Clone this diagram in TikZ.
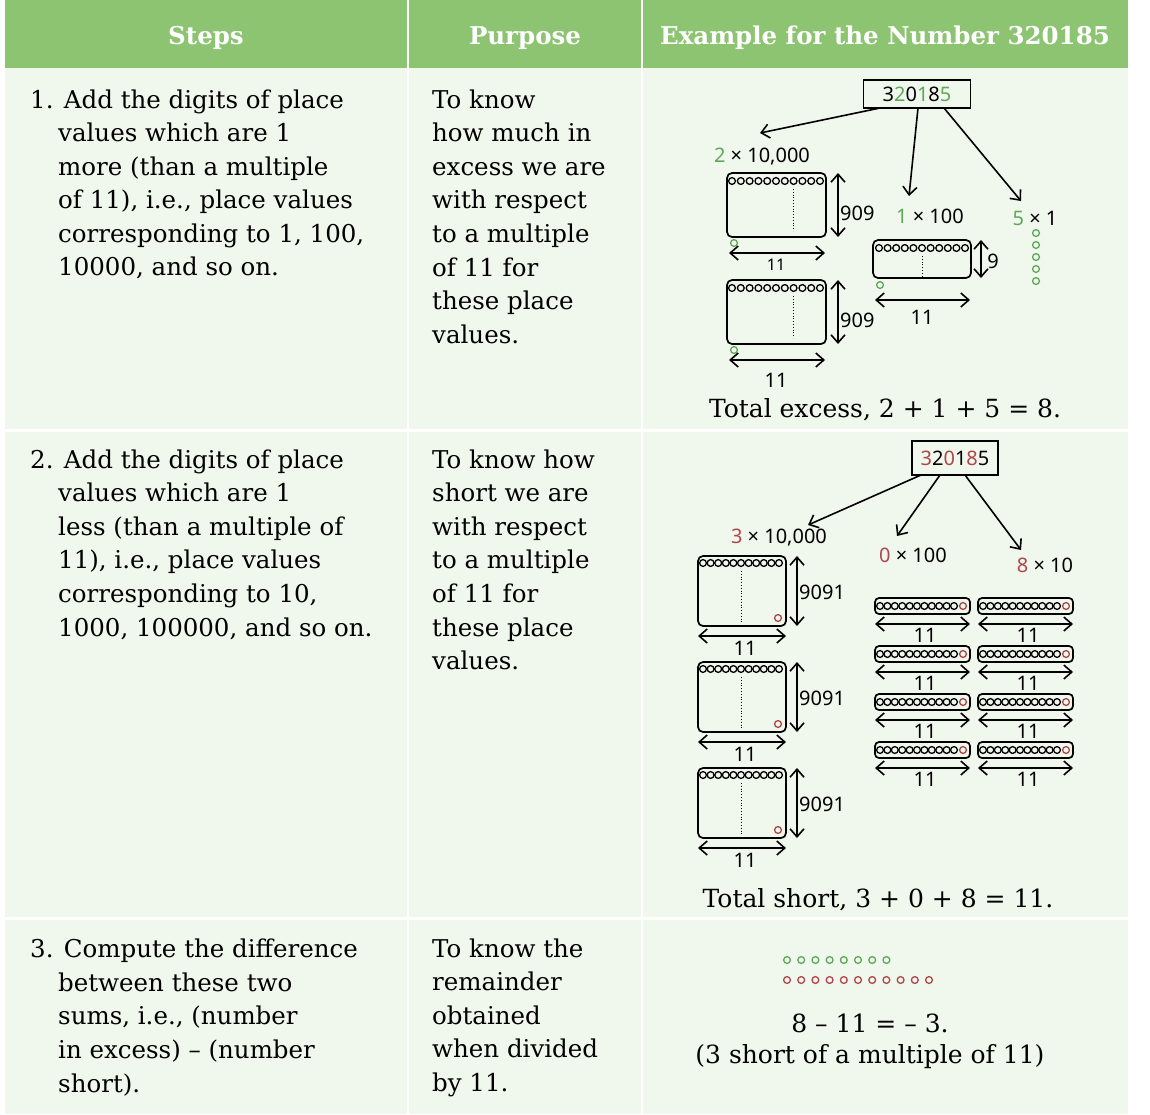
\documentclass[tikz,border=0pt]{standalone}
\usepackage{fontspec}
\setmainfont{DejaVu Serif}
\newfontfamily\lab{Noto Sans}
\usetikzlibrary{arrows.meta}
\definecolor{hdr}{HTML}{8CC472}
\definecolor{bodybg}{HTML}{F0F7EC}
\definecolor{gr}{HTML}{5FA85A}
\definecolor{rd}{HTML}{B0464C}
\tikzset{
 txt/.style={anchor=base west,inner sep=0,font=\fontsize{24.5}{30}\selectfont},
 hd/.style={anchor=center,inner sep=0,text=white,font=\bfseries\fontsize{24.5}{28}\selectfont},
 lb/.style={inner sep=0,font=\lab\fontsize{20}{22}\selectfont},
 lbs/.style={inner sep=0,font=\lab\fontsize{16}{18}\selectfont},
 big/.style={inner sep=0,font=\fontsize{25}{30}\selectfont},
 arr/.style={line width=1.6pt,-{Straight Barb[length=8pt,width=14pt]}},
 darr/.style={line width=1.6pt,{Straight Barb[length=8pt,width=14pt]}-{Straight Barb[length=8pt,width=14pt]}},
 frm/.style={draw,line width=1.7pt,rounded corners=5pt},
}
\newcommand\crow[5]{\foreach \i in {1,...,#3}{\draw[#5,line width=1.3pt] ({#1+(\i-1)*#4},#2) circle (3.4);}}
\begin{document}
\begin{tikzpicture}[x=1pt,y=-1pt]
\useasboundingbox (0,0) rectangle (1150,1114);
\fill[white] (0,0) rectangle (1150,1114);
\fill[bodybg] (5,68) rectangle (1128,1114);
\fill[hdr] (5,0) rectangle (1128,68);
\draw[white,line width=2pt] (408,0) -- (408,1114) (642,0) -- (642,1114);
\draw[white,line width=3pt] (5,430) -- (1128,430) (5,918) -- (1128,918);
\node[hd] (h1) at (206,38) {Steps};
\node[hd] (h2) at (525,38) {Purpose};
\node[hd] (h3) at (885,38) {Example for the Number 320185};
% column 1
\node[txt] at (30,108) {1. Add the digits of place};
\node[txt] at (58,141) {values which are 1};
\node[txt] at (58,175) {more (than a multiple};
\node[txt] at (58,208) {of 11), i.e., place values};
\node[txt] at (58,242) {corresponding to 1, 100,};
\node[txt] at (58,275) {10000, and so on.};
\node[txt] at (30,468) {2. Add the digits of place};
\node[txt] at (58,501) {values which are 1};
\node[txt] at (58,535) {less (than a multiple of};
\node[txt] at (58,568) {11), i.e., place values};
\node[txt] at (58,602) {corresponding to 10,};
\node[txt] at (58,636) {1000, 100000, and so on.};
\node[txt] at (30,957) {3. Compute the difference};
\node[txt] at (58,991) {between these two};
\node[txt] at (58,1024) {sums, i.e., (number};
\node[txt] at (58,1058) {in excess) – (number};
\node[txt] at (58,1092) {short).};
% column 2
\foreach \t [count=\k] in {To know,how much in,excess we are,with respect,to a multiple,of 11 for,these place,values.}
  \node[txt] at (432,{108+(\k-1)*33.6}) {\t};
\foreach \t [count=\k] in {To know how,short we are,with respect,to a multiple,of 11 for,these place,values.}
  \node[txt] at (432,{468+(\k-1)*33.6}) {\t};
\foreach \t [count=\k] in {To know the,remainder,obtained,when divided,by 11.}
  \node[txt] at (432,{957+(\k-1)*33.6}) {\t};
% ===== example 1
\node[draw,line width=1.5pt,minimum width=107pt,minimum height=28pt,inner sep=0,lb] (n1) at (917,94) {3\textcolor{gr}{2}0\textcolor{gr}{1}8\textcolor{gr}{5}};
\coordinate (t1) at (760,133);\coordinate (t2) at (909,196);\coordinate (t3) at (1021,201);
\draw[arr] (880,108) -- (t1);
\draw[arr] (918,108) -- (t2);
\draw[arr] (944,108) -- (t3);
\node[lb] at (762,157) {\textcolor{gr}{2} × 10,000};
\foreach \yy/\lbl in {173/909,280/909}{
 \draw[frm] (727,\yy) rectangle (826,\yy+64);
 \crow{732}{\yy+8}{11}{8.8}{black}
 \draw[dotted,line width=0.8pt] (793,\yy+16) -- (793,\yy+58);
 \draw[darr] (838,\yy) -- (838,\yy+64);
 \node[lb,anchor=west] at (840,\yy+40) {\lbl};
 \crow{734}{\yy+70}{1}{0}{gr}
 \draw[darr] (729,\yy+80) -- (825,\yy+80);
}
\node[lbs] at (776,265) {11};
\node[lb] at (776,380) {11};
\node[lb] at (930,216) {\textcolor{gr}{1} × 100};
\draw[frm] (873,240) rectangle (971,278);
\crow{879}{248}{11}{8.6}{black}
\draw[dotted,line width=0.8pt] (922,256) -- (922,276);
\draw[darr] (981,240) -- (981,278);
\node[lb] at (993,261) {9};
\crow{880}{285}{1}{0}{gr}
\draw[darr] (875,300) -- (970,300);
\node[lb] at (922,317) {11};
\node[lb] at (1035,218) {\textcolor{gr}{5} × 1};
\foreach \k in {0,...,4}{\draw[gr,line width=1.3pt] (1036,{233+\k*12}) circle (3.4);}
\node[big] at (885,410) {Total excess, 2 + 1 + 5 = 8.};
% ===== example 2
\node[draw,line width=1.5pt,minimum width=86pt,minimum height=34pt,inner sep=0,lb] (n2) at (955,458) {\textcolor{rd}{3}2\textcolor{rd}{0}1\textcolor{rd}{8}5};
\coordinate (u1) at (808,525);\coordinate (u2) at (897,536);\coordinate (u3) at (1021,550);
\draw[arr] (921,475) -- (u1);
\draw[arr] (940,475) -- (u2);
\draw[arr] (965,475) -- (u3);
\node[lb] at (779,538) {\textcolor{rd}{3} × 10,000};
\node[lb] at (913,555) {\textcolor{rd}{0} × 100};
\node[lb] at (1045,565) {\textcolor{rd}{8} × 10};
\foreach \yy in {556,662,768}{
 \draw[frm] (698,\yy) rectangle (786,\yy+70);
 \crow{703}{\yy+7}{10}{7.6}{black}
 \crow{779}{\yy+7}{1}{0}{black}
 \crow{778}{\yy+62}{1}{0}{rd}
 \draw[dotted,line width=0.8pt] (741,\yy+15) -- (741,\yy+66);
 \draw[darr] (797,\yy) -- (797,\yy+70);
 \node[lb,anchor=west] at (799,\yy+36) {9091};
 \draw[darr] (698,\yy+80) -- (786,\yy+80);
 \node[lb] at (745,\yy+92) {11};
}
\foreach \xx in {875,978}{\foreach \yy in {598,646,694,742}{
 \draw[frm,rounded corners=4pt] (\xx,\yy) rectangle (\xx+95,\yy+16);
 \crow{\xx+5}{\yy+8}{11}{7.4}{black}
 \crow{\xx+88}{\yy+8}{1}{0}{rd}
 \draw[darr] (\xx,\yy+26) -- (\xx+95,\yy+26);
 \node[lb] at (\xx+50,\yy+37) {11};
}}
\node[big] at (878,900) {Total short, 3 + 0 + 8 = 11.};
% ===== example 3
\crow{787}{960}{8}{14.2}{gr}
\crow{787}{980}{11}{14.2}{rd}
\node[big] at (870,1023) {8 – 11 = – 3.};
\node[big] at (870,1057) {(3 short of a multiple of 11)};
\end{tikzpicture}
\end{document}
